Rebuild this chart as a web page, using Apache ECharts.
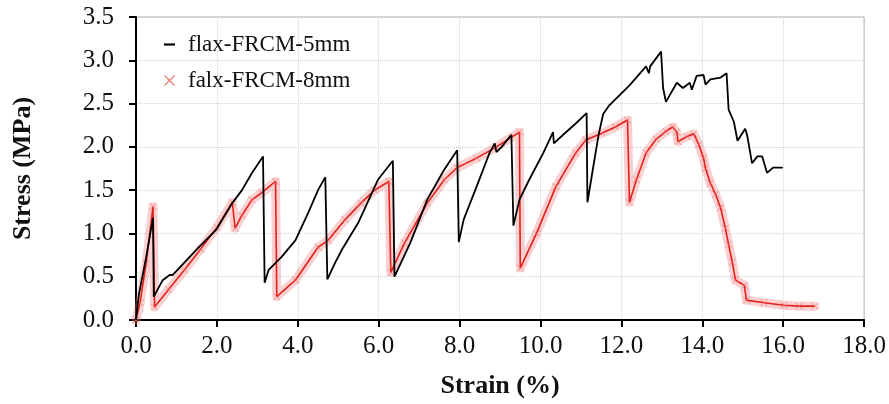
<!DOCTYPE html>
<html><head><meta charset="utf-8">
<script src="https://cdn.jsdelivr.net/npm/echarts@6/dist/echarts.min.js"></script>
<style>html,body{margin:0;padding:0;background:#fff}#c{width:889px;height:404px}</style>
</head><body><div id="c"></div>
<script>
const seriesNames = ['flax-FRCM-5mm', 'falx-FRCM-8mm'];
const xTicks = [0, 2, 4, 6, 8, 10, 12, 14, 16, 18];
const yTicks = [0, 0.5, 1, 1.5, 2, 2.5, 3, 3.5];
const flax5 = [
 [0,0],[0.07,0.29],[0.25,0.72],[0.42,1.18],[0.44,0.27],[0.66,0.46],[0.83,0.52],[0.91,0.52],[1.49,0.81],[1.98,1.04],
 [2.38,1.35],[2.62,1.5],[2.87,1.7],[3.14,1.89],[3.18,0.43],[3.28,0.58],[3.6,0.73],[3.94,0.92],[4.26,1.24],
 [4.5,1.5],[4.68,1.65],[4.73,0.47],[4.92,0.66],[5.1,0.82],[5.49,1.12],[5.98,1.62],[6.35,1.84],[6.39,0.5],[6.78,0.89],
 [7.2,1.39],[7.61,1.73],[7.94,1.96],[7.98,0.9],[8.1,1.16],[8.42,1.54],[8.74,1.93],[8.87,2.04],[8.91,1.94],
 [9.04,2.0],[9.28,2.14],[9.33,1.09],[9.48,1.39],[9.72,1.62],[10.07,1.93],[10.31,2.17],[10.33,2.04],[10.56,2.14],
 [10.87,2.27],[11.14,2.39],[11.16,1.36],[11.29,1.73],[11.44,2.15],[11.55,2.38],[11.7,2.48],[12.2,2.71],
 [12.61,2.93],[12.68,2.85],[12.71,2.93],[12.98,3.1],[13.03,2.68],[13.1,2.52],[13.37,2.74],[13.52,2.68],
 [13.69,2.74],[13.74,2.66],[13.86,2.82],[14.03,2.83],[14.08,2.72],[14.2,2.78],[14.45,2.8],[14.6,2.85],
 [14.65,2.43],[14.78,2.29],[14.87,2.07],[15.06,2.21],[15.11,2.13],[15.23,1.81],[15.36,1.89],[15.48,1.89],
 [15.6,1.7],[15.75,1.76],[15.99,1.76]
];
const falx8 = [
 [0,0],[0.1,0.2],[0.25,0.65],[0.42,1.31],[0.46,0.15],[0.8,0.35],[1.2,0.58],[1.6,0.82],[2.0,1.07],[2.38,1.36],
 [2.45,1.06],[2.62,1.21],[2.87,1.39],[3.11,1.47],[3.45,1.6],[3.48,0.27],[3.94,0.46],[4.5,0.84],[4.75,0.92],
 [5.17,1.16],[5.56,1.35],[5.9,1.5],[6.25,1.6],[6.3,0.55],[6.64,0.89],[7.2,1.35],[7.62,1.62],[7.94,1.76],[8.42,1.87],
 [8.91,2.0],[9.48,2.17],[9.5,0.6],[9.9,1.0],[10.38,1.54],[10.87,1.93],[11.12,2.08],[11.53,2.16],[11.85,2.23],
 [12.15,2.31],[12.2,1.36],[12.37,1.62],[12.61,1.93],[12.86,2.09],[13.1,2.18],[13.27,2.23],[13.37,2.17],
 [13.4,2.06],[13.62,2.12],[13.79,2.15],[13.91,2.03],[14.03,1.87],[14.08,1.75],[14.2,1.58],[14.33,1.45],
 [14.45,1.3],[14.57,1.06],[14.65,0.87],[14.74,0.67],[14.82,0.46],[15.04,0.4],[15.09,0.23],[15.53,0.2],
 [16.02,0.17],[16.4,0.16],[16.78,0.16]
];
const serif = '"Liberation Serif","Times New Roman",serif';
const xMark = 'path://M0,0L10,10M10,0L0,10';
const chart = echarts.init(document.getElementById('c'));
chart.setOption({
  animation: false,
  backgroundColor: '#fff',
  grid: {left: 136, right: 18, top: 17, bottom: 84, show: true, borderColor: '#aaa', borderWidth: 1},
  legend: {
    data: [
      {name: seriesNames[0], icon: 'path://M0,0H10V2H0Z'},
      {name: seriesNames[1], icon: xMark, itemStyle: {color: 'none', borderColor: '#e8776f', borderWidth: 1.2}}
    ],
    orient: 'vertical', left: 157, top: 28, itemGap: 13, itemWidth: 11, itemHeight: 10,
    textStyle: {fontFamily: serif, fontSize: 23, color: '#111', padding: [0, 0, 0, 8]}
  },
  xAxis: {
    type: 'value', min: xTicks[0], max: xTicks[xTicks.length - 1], interval: 2,
    name: 'Strain (%)', nameLocation: 'middle', nameGap: 53,
    nameTextStyle: {fontFamily: serif, fontSize: 26, fontWeight: 'bold', color: '#111'},
    axisLine: {onZero: false, lineStyle: {color: '#000', width: 2}},
    axisTick: {show: true, length: 7, lineStyle: {color: '#000', width: 2}},
    axisLabel: {fontFamily: serif, fontSize: 25, color: '#111', margin: 14, formatter: v => v.toFixed(1)},
    splitLine: {show: true, lineStyle: {color: '#d4d4d4', type: 'dotted', width: 1}}
  },
  yAxis: {
    type: 'value', min: yTicks[0], max: yTicks[yTicks.length - 1], interval: 0.5,
    name: 'Stress (MPa)', nameLocation: 'middle', nameGap: 100, nameRotate: 90,
    nameTextStyle: {fontFamily: serif, fontSize: 26, fontWeight: 'bold', color: '#111'},
    axisLine: {show: true, onZero: false, lineStyle: {color: '#000', width: 2}},
    axisTick: {show: true, length: 7, lineStyle: {color: '#000', width: 2}},
    axisLabel: {fontFamily: serif, fontSize: 25, color: '#111', margin: 22, formatter: v => v.toFixed(1)},
    splitLine: {show: true, lineStyle: {color: '#d4d4d4', type: 'dotted', width: 1}}
  },
  series: [
    {
      name: seriesNames[1] + ' band', type: 'line', data: falx8, showSymbol: false, silent: true,
      lineStyle: {color: 'rgba(240,120,120,0.35)', width: 9, join: 'round', cap: 'round'},
      z: 1
    },
    {
      name: seriesNames[1], type: 'line', data: falx8, symbol: xMark, symbolSize: 7, showAllSymbol: true,
      itemStyle: {color: 'none', borderColor: 'rgba(240,100,100,0.6)', borderWidth: 1},
      lineStyle: {color: '#e3201b', width: 1.6},
      z: 2
    },
    {
      name: seriesNames[0], type: 'line', data: flax5, showSymbol: false,
      itemStyle: {color: '#000'},
      lineStyle: {color: '#000', width: 1.8},
      z: 3
    }
  ]
});
</script></body></html>
